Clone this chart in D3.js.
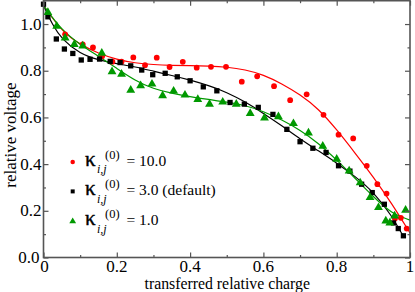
<!DOCTYPE html>
<html><head><meta charset="utf-8">
<script src="https://cdn.jsdelivr.net/npm/d3@7"></script>
<style>
html,body{margin:0;padding:0;background:#fff;}
svg{display:block;font-family:"Liberation Serif","DejaVu Serif",serif;}
</style></head>
<body><svg id="c" width="415" height="292"></svg>
<script>
// ---- data ----
const seriesNames = ["10.0", "3.0 (default)", "1.0"];
const seriesColors = ["#ff0000", "#000000", "#009900"];

const redX = [0.059,0.107,0.135,0.160,0.188,0.213,0.245,0.277,0.309,0.344,0.380,0.418,0.457,0.498,0.541,0.583,0.629,0.673,0.718,0.764,0.805,0.845,0.882,0.911,0.936,0.959,0.975,0.991];
const redY = [0.956,0.913,0.900,0.862,0.839,0.839,0.857,0.824,0.856,0.816,0.838,0.813,0.817,0.817,0.753,0.776,0.734,0.674,0.699,0.611,0.526,0.510,0.393,0.314,0.274,0.167,0.170,0.124];

const blackX = [0.000,0.012,0.035,0.057,0.080,0.103,0.127,0.153,0.182,0.209,0.238,0.268,0.298,0.332,0.365,0.400,0.436,0.473,0.509,0.548,0.586,0.626,0.664,0.700,0.735,0.771,0.805,0.836,0.868,0.897,0.930,0.955,0.968,0.982];
const blackY = [1.085,1.031,0.936,0.893,0.874,0.846,0.849,0.850,0.840,0.835,0.821,0.803,0.783,0.789,0.774,0.757,0.731,0.714,0.664,0.657,0.643,0.613,0.549,0.496,0.468,0.450,0.393,0.370,0.314,0.278,0.228,0.148,0.124,0.093];

const greenX = [0.012,0.036,0.059,0.084,0.107,0.159,0.187,0.213,0.238,0.265,0.296,0.325,0.355,0.386,0.421,0.453,0.489,0.526,0.564,0.603,0.641,0.682,0.723,0.762,0.800,0.834,0.864,0.891,0.914,0.934,0.945,0.958,0.988];
const greenY = [1.050,0.991,0.941,0.913,0.906,0.875,0.796,0.785,0.717,0.736,0.743,0.693,0.713,0.696,0.677,0.657,0.666,0.657,0.617,0.598,0.603,0.574,0.534,0.477,0.421,0.371,0.320,0.257,0.214,0.157,0.148,0.178,0.203];

// fitted curves
const redFitX   = [0,0.05,0.1,0.15,0.2,0.25,0.3,0.35,0.4,0.45,0.5,0.55,0.6,0.65,0.7,0.75,0.8,0.85,0.9,0.95,1.0];
const redFitY   = [1.08,0.968,0.912,0.874,0.848,0.833,0.826,0.823,0.822,0.820,0.816,0.805,0.783,0.745,0.698,0.638,0.548,0.448,0.345,0.232,0.105];
const blackFitX = [0,0.025,0.05,0.1,0.15,0.2,0.25,0.3,0.35,0.4,0.45,0.5,0.55,0.6,0.65,0.7,0.75,0.8,0.85,0.9,0.95,0.982];
const blackFitY = [1.08,0.995,0.935,0.872,0.846,0.830,0.817,0.798,0.780,0.760,0.737,0.708,0.667,0.618,0.565,0.508,0.457,0.405,0.348,0.282,0.180,0.090];
const greenFitX = [0,0.05,0.1,0.15,0.2,0.25,0.3,0.35,0.4,0.45,0.5,0.55,0.6,0.65,0.7,0.75,0.8,0.85,0.9,0.95,1.0];
const greenFitY = [1.08,0.972,0.912,0.862,0.810,0.758,0.722,0.703,0.689,0.677,0.666,0.652,0.626,0.590,0.546,0.490,0.418,0.340,0.260,0.188,0.160];

const xMajor = [0,0.2,0.4,0.6,0.8,1];
const xLabels = ["0","0.2","0.4","0.6","0.8","1"];
const xMinor = [0.1,0.3,0.5,0.7,0.9];
const yMajor = [0,0.2,0.4,0.6,0.8,1.0];
const yLabels = ["0.0","0.2","0.4","0.6","0.8","1.0"];
const yMinor = [0.1,0.3,0.5,0.7,0.9];

// ---- drawing ----
const svg = d3.select("#c");
const L = 43.5, R = 410, T = 0.7, B = 257.5;
const x = d3.scaleLinear().domain([0,1]).range([L,R]);
const y = d3.scaleLinear().domain([0,1.1]).range([B,T]);
const axisColor = "#555";

const g = svg.append("g");

// fitted curves
const line = d3.line().x(d=>x(d[0])).y(d=>y(d[1])).curve(d3.curveBasis);
const fits = [[redFitX,redFitY],[blackFitX,blackFitY],[greenFitX,greenFitY]];
fits.forEach((f,i)=>{
  g.append("path").attr("d", line(d3.zip(f[0],f[1])))
   .attr("fill","none").attr("stroke",seriesColors[i]).attr("stroke-width",1.2);
});

// symbols
const sym = [d3.symbolCircle, d3.symbolSquare, d3.symbolTriangle];
const symSize = [26, 28, 34];
const pts = [[redX,redY],[blackX,blackY],[greenX,greenY]];
pts.forEach((p,i)=>{
  g.append("g").selectAll("path").data(d3.zip(p[0],p[1])).join("path")
   .attr("transform", d=>`translate(${x(d[0])},${y(d[1])})`)
   .attr("d", d3.symbol().type(sym[i]).size(symSize[i]))
   .attr("fill", seriesColors[i]);
});

// axes (ticks inward on all four sides)
const ax = svg.append("g").attr("color",axisColor);
ax.append("g").attr("transform",`translate(0,${B})`)
  .call(d3.axisBottom(x).tickValues(xMajor).tickFormat(()=>"").tickSizeInner(-5).tickSizeOuter(0));
ax.append("g").attr("transform",`translate(0,${B})`)
  .call(d3.axisBottom(x).tickValues(xMinor).tickFormat(()=>"").tickSizeInner(-2.5).tickSizeOuter(0));
ax.append("g").attr("transform",`translate(0,${T})`)
  .call(d3.axisTop(x).tickValues(xMajor).tickFormat(()=>"").tickSizeInner(-5).tickSizeOuter(0));
ax.append("g").attr("transform",`translate(0,${T})`)
  .call(d3.axisTop(x).tickValues(xMinor).tickFormat(()=>"").tickSizeInner(-2.5).tickSizeOuter(0));
ax.append("g").attr("transform",`translate(${L},0)`)
  .call(d3.axisLeft(y).tickValues(yMajor).tickFormat(()=>"").tickSizeInner(-5).tickSizeOuter(0));
ax.append("g").attr("transform",`translate(${L},0)`)
  .call(d3.axisLeft(y).tickValues(yMinor).tickFormat(()=>"").tickSizeInner(-2.5).tickSizeOuter(0));
ax.append("g").attr("transform",`translate(${R},0)`)
  .call(d3.axisRight(y).tickValues(yMajor).tickFormat(()=>"").tickSizeInner(-5).tickSizeOuter(0));
ax.append("g").attr("transform",`translate(${R},0)`)
  .call(d3.axisRight(y).tickValues(yMinor).tickFormat(()=>"").tickSizeInner(-2.5).tickSizeOuter(0));
ax.selectAll(".domain").remove();
ax.selectAll("line").attr("stroke-width",1.2);
svg.append("rect").attr("x",L).attr("y",T).attr("width",R-L).attr("height",B-T)
  .attr("fill","none").attr("stroke",axisColor).attr("stroke-width",1.6);

// tick labels
svg.append("g").selectAll("text").data(xMajor).join("text")
  .attr("x",d=>x(d)+(d===0?1:0)).attr("y",271.5).attr("text-anchor","middle")
  .attr("font-size",17).text((d,i)=>xLabels[i]);
svg.append("g").selectAll("text").data(yMajor).join("text")
  .attr("x",d=>d===0?39.5:41.5).attr("y",d=>y(d)+5.6).attr("text-anchor","end")
  .attr("font-size",17).text((d,i)=>yLabels[i]);

// axis titles
svg.append("text").attr("x",(L+R)/2+0.5).attr("y",288.5).attr("text-anchor","middle")
  .attr("font-size",15.8).text("transferred relative charge");
svg.append("text").attr("transform","translate(15.5,135) rotate(-90)").attr("text-anchor","middle")
  .attr("font-size",17).text("relative voltage");

// legend
const legY = [165.5, 195, 225];
const lg = svg.append("g");
legY.forEach((by,i)=>{
  lg.append("path").attr("transform",`translate(72.7,${by-3.6})`)
    .attr("d", d3.symbol().type(sym[i]).size([16,16,20][i])).attr("fill",seriesColors[i]);
  lg.append("text").attr("x",85).attr("y",by).attr("font-size",21)
    .attr("stroke","#000").attr("stroke-width",0.4).text("κ");
  lg.append("text").attr("x",105).attr("y",by-7).attr("font-size",12.5).text("(0)");
  lg.append("text").attr("x",97).attr("y",by+7.5).attr("font-size",12).attr("font-style","italic")
    .text("i,j");
  lg.append("text").attr("x",126.5).attr("y",by).attr("font-size",15.5).attr("xml:space","preserve")
    .text("= " + seriesNames[i]);
});
</script></body></html>
